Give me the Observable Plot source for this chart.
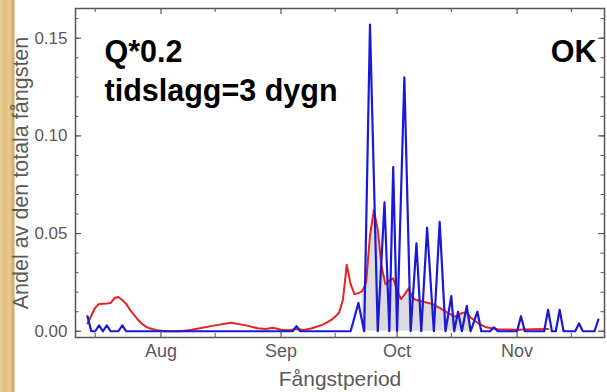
<!DOCTYPE html>
<html>
<head>
<meta charset="utf-8">
<script src="https://cdn.jsdelivr.net/npm/d3@7"></script>
<script src="https://cdn.jsdelivr.net/npm/@observablehq/plot@0.6"></script>
<style>
  html, body { margin: 0; padding: 0; }
  body {
    width: 607px; height: 392px; overflow: hidden;
    background:
      linear-gradient(to right, #e9cf97 0px, #dfbf82 5px, #e8cb90 9px, #dbb977 12px, #c9a566 14px, #ffffff 15px, #ffffff 100%);
  }
  #chart svg { display: block; }
</style>
</head>
<body>
<div id="chart"></div>
<script>
// Share of the total catch per day, observed (red) and modelled (blue)
const redSeries = [
  ["2013-07-13", 0.004], ["2013-07-15", 0.012], ["2013-07-16", 0.014], ["2013-07-18", 0.0142],
  ["2013-07-19", 0.0145], ["2013-07-20", 0.017], ["2013-07-21", 0.0175], ["2013-07-22", 0.016],
  ["2013-07-23", 0.014], ["2013-07-24", 0.011], ["2013-07-25", 0.0085], ["2013-07-26", 0.006],
  ["2013-07-27", 0.004], ["2013-07-28", 0.0025], ["2013-07-29", 0.0015], ["2013-07-31", 0.0005],
  ["2013-08-02", 0.0], ["2013-08-06", 0.0], ["2013-08-09", 0.0008], ["2013-08-11", 0.0015],
  ["2013-08-15", 0.003], ["2013-08-19", 0.0043], ["2013-08-23", 0.003], ["2013-08-26", 0.0015],
  ["2013-08-28", 0.0012], ["2013-08-30", 0.0018], ["2013-09-01", 0.0008], ["2013-09-03", 0.0005],
  ["2013-09-05", 0.0012], ["2013-09-07", 0.0006], ["2013-09-09", 0.0015], ["2013-09-12", 0.0035],
  ["2013-09-14", 0.0058], ["2013-09-15", 0.0075], ["2013-09-16", 0.0095], ["2013-09-17", 0.016],
  ["2013-09-18", 0.034], ["2013-09-19", 0.024], ["2013-09-20", 0.019], ["2013-09-21", 0.0195],
  ["2013-09-22", 0.0205], ["2013-09-23", 0.025], ["2013-09-24", 0.049], ["2013-09-25", 0.062],
  ["2013-09-26", 0.052], ["2013-09-27", 0.033], ["2013-09-28", 0.024], ["2013-09-29", 0.026],
  ["2013-09-30", 0.027], ["2013-10-01", 0.021], ["2013-10-02", 0.0165], ["2013-10-03", 0.019],
  ["2013-10-04", 0.022], ["2013-10-05", 0.017], ["2013-10-06", 0.016], ["2013-10-08", 0.015],
  ["2013-10-10", 0.014], ["2013-10-12", 0.012], ["2013-10-14", 0.0095], ["2013-10-16", 0.0075],
  ["2013-10-18", 0.0095], ["2013-10-19", 0.0095], ["2013-10-20", 0.007], ["2013-10-22", 0.004],
  ["2013-10-24", 0.002], ["2013-10-27", 0.001], ["2013-11-01", 0.0008], ["2013-11-05", 0.001],
  ["2013-11-09", 0.0012]
];

const blueSeries = [
  ["2013-07-13", 0.0077], ["2013-07-14", 0], ["2013-07-15", 0], ["2013-07-16", 0.003],
  ["2013-07-17", 0], ["2013-07-18", 0.003], ["2013-07-19", 0], ["2013-07-21", 0],
  ["2013-07-22", 0.003], ["2013-07-23", 0], ["2013-09-04", 0], ["2013-09-05", 0.0026],
  ["2013-09-06", 0], ["2013-09-19", 0], ["2013-09-21", 0.0145], ["2013-09-22T12:00Z", 0],
  ["2013-09-24", 0.157], ["2013-09-26", 0], ["2013-09-27T18:00Z", 0.066], ["2013-09-29", 0],
  ["2013-09-30", 0.084], ["2013-10-01", 0], ["2013-10-02T21:00Z", 0.13], ["2013-10-04T12:00Z", 0],
  ["2013-10-06", 0.045], ["2013-10-07T06:00Z", 0], ["2013-10-08T18:00Z", 0.053], ["2013-10-10T12:00Z", 0],
  ["2013-10-12", 0.056], ["2013-10-13T12:00Z", 0], ["2013-10-15", 0.018], ["2013-10-15T18:00Z", 0],
  ["2013-10-16T18:00Z", 0.010], ["2013-10-17T18:00Z", 0], ["2013-10-19", 0.013], ["2013-10-20", 0],
  ["2013-10-21T18:00Z", 0.010], ["2013-10-22T18:00Z", 0], ["2013-10-25", 0], ["2013-10-26", 0.002],
  ["2013-10-27", 0], ["2013-11-01", 0], ["2013-11-02", 0.0077], ["2013-11-03", 0],
  ["2013-11-08", 0], ["2013-11-09", 0.011], ["2013-11-10", 0], ["2013-11-11", 0],
  ["2013-11-12", 0.011], ["2013-11-13", 0], ["2013-11-16", 0], ["2013-11-17", 0.004],
  ["2013-11-18", 0], ["2013-11-21", 0], ["2013-11-22", 0.006]
];

// period where the catch overlap is shaded
const shadeRange = ["2013-09-22", "2013-10-21"];

// axes
const xExtent = ["2013-07-09T22:00Z", "2013-11-23T14:00Z"];
const monthTicks = ["2013-08-01", "2013-09-01", "2013-10-01", "2013-11-01"];
const monthLabels = ["Aug", "Sep", "Oct", "Nov"];
const midMonthTicks = ["2013-07-15", "2013-08-15", "2013-09-15", "2013-10-15", "2013-11-15"];
const yExtent = [-0.0032, 0.1652];
const yTicks = [0, 0.05, 0.10, 0.15];
const yMinorTicks = d3.range(0, 0.165, 0.01);

const xLabel = "Fångstperiod";
const yLabel = "Andel av den totala fångsten";
const notes = ["Q*0.2", "tidslagg=3 dygn"];
const status = "OK";

const toRows = s => s.map(([d, v]) => ({date: new Date(d), value: v}));
const red = toRows(redSeries);
const blue = toRows(blueSeries);
const [s0, s1] = shadeRange.map(d => new Date(d));
const shaded = red.filter(d => d.date >= s0 && d.date <= s1);

const months = monthTicks.map(d => new Date(d));
const labelOf = new Map(months.map((d, i) => [+d, monthLabels[i]]));
const mids = midMonthTicks.map(d => new Date(d));

const W = 607, H = 392, mL = 75, mR = 3, mT = 8, mB = 55;
const pw = W - mL - mR, ph = H - mT - mB;
const font = "'Liberation Sans', Arial, Helvetica, sans-serif";
const frameColor = "#555";
const labelColor = "#5a5a5a";

const chart = Plot.plot({
  width: W, height: H,
  marginLeft: mL, marginRight: mR, marginTop: mT, marginBottom: mB,
  style: {background: "transparent", fontFamily: font, overflow: "visible"},
  x: {type: "utc", domain: xExtent.map(d => new Date(d))},
  y: {domain: yExtent},
  marks: [
    Plot.areaY(shaded, {x: "date", y: "value", fill: "#dcdcdc"}),
    Plot.lineY(red, {x: "date", y: "value", stroke: "#e52420", strokeWidth: 2}),
    Plot.lineY(blue, {x: "date", y: "value", stroke: "#1a1ad6", strokeWidth: 2.2}),
    // inward frame ticks
    Plot.ruleX(months, {insetTop: ph - 6, stroke: frameColor, strokeWidth: 1.2}),
    Plot.ruleX(months, {insetBottom: ph - 6, stroke: frameColor, strokeWidth: 1.2}),
    Plot.ruleX(mids, {insetTop: ph - 4, stroke: frameColor, strokeWidth: 1}),
    Plot.ruleX(mids, {insetBottom: ph - 4, stroke: frameColor, strokeWidth: 1}),
    Plot.ruleY(yTicks, {insetRight: pw - 6, stroke: frameColor, strokeWidth: 1.2}),
    Plot.ruleY(yTicks, {insetLeft: pw - 6, stroke: frameColor, strokeWidth: 1.2}),
    Plot.ruleY(yMinorTicks, {insetRight: pw - 3.5, stroke: frameColor, strokeWidth: 1}),
    Plot.ruleY(yMinorTicks, {insetLeft: pw - 3.5, stroke: frameColor, strokeWidth: 1}),
    Plot.frame({stroke: frameColor, strokeWidth: 1.5}),
    Plot.axisX(months, {tickSize: 0, tickPadding: 7, tickFormat: d => labelOf.get(+d),
      fontSize: 18, color: labelColor, label: null}),
    Plot.axisY(yTicks, {tickSize: 0, tickPadding: 8, tickFormat: d => d.toFixed(2),
      fontSize: 17, color: labelColor, label: null}),
    Plot.text([xLabel], {text: d => d, frameAnchor: "bottom", textAnchor: "middle", dy: 42, lineAnchor: "middle",
      fontSize: 21, fill: labelColor, fontFamily: font}),
    Plot.text([yLabel], {text: d => d, frameAnchor: "left", textAnchor: "middle", dx: -54, rotate: -90,
      lineAnchor: "middle", fontSize: 21.5, fill: labelColor, fontFamily: font}),
    Plot.text([notes[0]], {text: d => d, frameAnchor: "top-left", textAnchor: "start", lineAnchor: "bottom",
      dx: 29, dy: 53, fontSize: 30.5, fontWeight: "bold", fill: "#000", fontFamily: font}),
    Plot.text([notes[1]], {text: d => d, frameAnchor: "top-left", textAnchor: "start", lineAnchor: "bottom",
      dx: 29, dy: 92, fontSize: 30.5, fontWeight: "bold", fill: "#000", fontFamily: font}),
    Plot.text([status], {text: d => d, frameAnchor: "top-right", textAnchor: "end", lineAnchor: "bottom",
      dx: -8, dy: 53, fontSize: 30.5, fontWeight: "bold", fill: "#000", fontFamily: font})
  ]
});

document.getElementById("chart").appendChild(chart);
</script>
</body>
</html>
